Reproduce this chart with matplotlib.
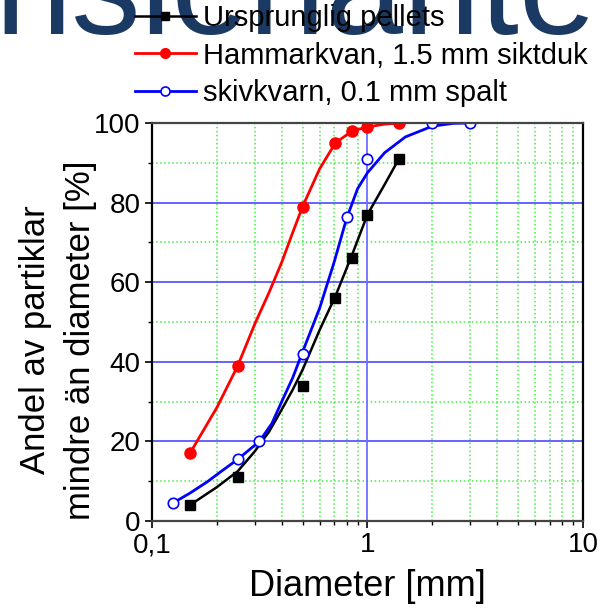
import numpy as np
import matplotlib
matplotlib.use("Agg")
import matplotlib.pyplot as plt
from matplotlib.ticker import FixedLocator, NullFormatter

plt.rcParams['font.family'] = ['Liberation Sans', 'DejaVu Sans']

# measured points
pellets_x = [0.15, 0.25, 0.5, 0.71, 0.85, 1.0, 1.4]
pellets_y = [4, 11, 34, 56, 66, 77, 91]
hammar_x = [0.15, 0.25, 0.5, 0.71, 0.85, 1.0, 1.4]
hammar_y = [17, 39, 79, 95, 98, 99, 100]
skiv_x = [0.125, 0.25, 0.315, 0.5, 0.8, 1.0, 2.0, 3.0]
skiv_y = [4.5, 15.5, 20, 42, 76.5, 91, 100, 100]

# fitted curves
pellets_cx = [0.15, 0.2, 0.25, 0.3, 0.35, 0.4, 0.45, 0.5, 0.6, 0.71, 0.85, 1.0, 1.2, 1.4]
pellets_cy = [4, 8.5, 12.5, 17.5, 22.5, 28, 33, 38, 48, 56.5, 67, 77, 84.5, 91]
hammar_cx = [0.15, 0.2, 0.25, 0.3, 0.35, 0.4, 0.45, 0.5, 0.6, 0.71, 0.85, 1.0, 1.2, 1.4]
hammar_cy = [17, 28.5, 39, 49.5, 57.5, 65, 72.5, 79, 88.5, 95, 98, 99, 99.7, 100]
skiv_cx = [0.125, 0.15, 0.18, 0.21, 0.25, 0.28, 0.315, 0.36, 0.4, 0.45, 0.5, 0.6, 0.7, 0.8,
           0.9, 1.0, 1.2, 1.5, 2.0, 2.5, 3.0]
skiv_cy = [4.5, 7, 9.8, 12.5, 15.5, 17.7, 20, 24.5, 30, 36, 42.5, 53.5, 65, 76,
           83.5, 87.5, 92.5, 96.5, 99.2, 99.9, 100]

labels = ['Ursprunglig pellets', 'Hammarkvan, 1.5 mm siktduk', 'skivkvarn, 0.1 mm spalt']

fig = plt.figure(figsize=(6, 6.1), dpi=100)

# big clipped heading behind everything
fig.text(-0.008, 0.9443, 'nsieriante', fontsize=100, color='#1b3a63',
         va='baseline', ha='left', zorder=0)

ax = fig.add_axes([0.2533, 0.1459, 0.7183, 0.6525])
ax.set_xscale('log')
ax.set_xlim(0.1, 10)
ax.set_ylim(0, 100)

# grid
ax.xaxis.set_minor_locator(FixedLocator([m * d for d in (0.1, 1) for m in range(2, 10)]))
ax.xaxis.set_minor_formatter(NullFormatter())
ax.set_xticks([0.1, 1, 10], ['0,1', '1', '10'])
ax.set_yticks([0, 20, 40, 60, 80, 100])
ax.set_yticks([10, 30, 50, 70, 90], minor=True)
ax.grid(True, which='minor', color='#44ee44', linestyle=':', linewidth=1.1)
ax.grid(True, which='major', axis='y', color='#3a3aff', linewidth=1.1)
ax.axvline(1, color='#6f6fff', linewidth=1.3, zorder=1)
ax.set_axisbelow(True)

ax.plot(pellets_cx, pellets_cy, color='black', lw=1.8, zorder=3)
ax.plot(pellets_x, pellets_y, 's', color='black', ms=7, zorder=4)
ax.plot(hammar_cx, hammar_cy, color='red', lw=2.0, zorder=3)
ax.plot(hammar_x, hammar_y, 'o', color='red', ms=8, zorder=4)
ax.plot(skiv_cx, skiv_cy, color='blue', lw=2.0, zorder=3)
ax.plot(skiv_x, skiv_y, 'o', mfc='white', mec='blue', mew=1.2, ms=7.5, zorder=4)

# legend handles
h1, = ax.plot([], [], '-s', color='black', lw=1.8, ms=6)
h2, = ax.plot([], [], '-o', color='red', lw=2.0, ms=7)
h3, = ax.plot([], [], '-o', color='blue', lw=2.0, ms=6.5, mfc='white', mew=1.2)
fig.legend([h1, h2, h3], labels, loc='upper left', bbox_to_anchor=(0.205, 1.012),
           frameon=False, fontsize=21, handlelength=2.1, handletextpad=0.25,
           labelspacing=0.32, borderaxespad=0)

for side in ('top', 'bottom'):
    ax.spines[side].set_color('#444444')
for side in ax.spines:
    ax.spines[side].set_linewidth(1.6)
ax.spines['top'].set_zorder(5)

ax.tick_params(which='major', direction='out', length=5, width=1.2, labelsize=20, pad=3)
ax.tick_params(which='minor', direction='out', length=3, width=1.0)

ax.set_xlabel('Diameter [mm]', fontsize=26, labelpad=8)
ax.set_ylabel('Andel av partiklar\nmindre än diameter [%]', fontsize=25, linespacing=1.45)
ax.yaxis.set_label_coords(-0.128, 0.455)

fig.savefig('out.png', dpi=100)
